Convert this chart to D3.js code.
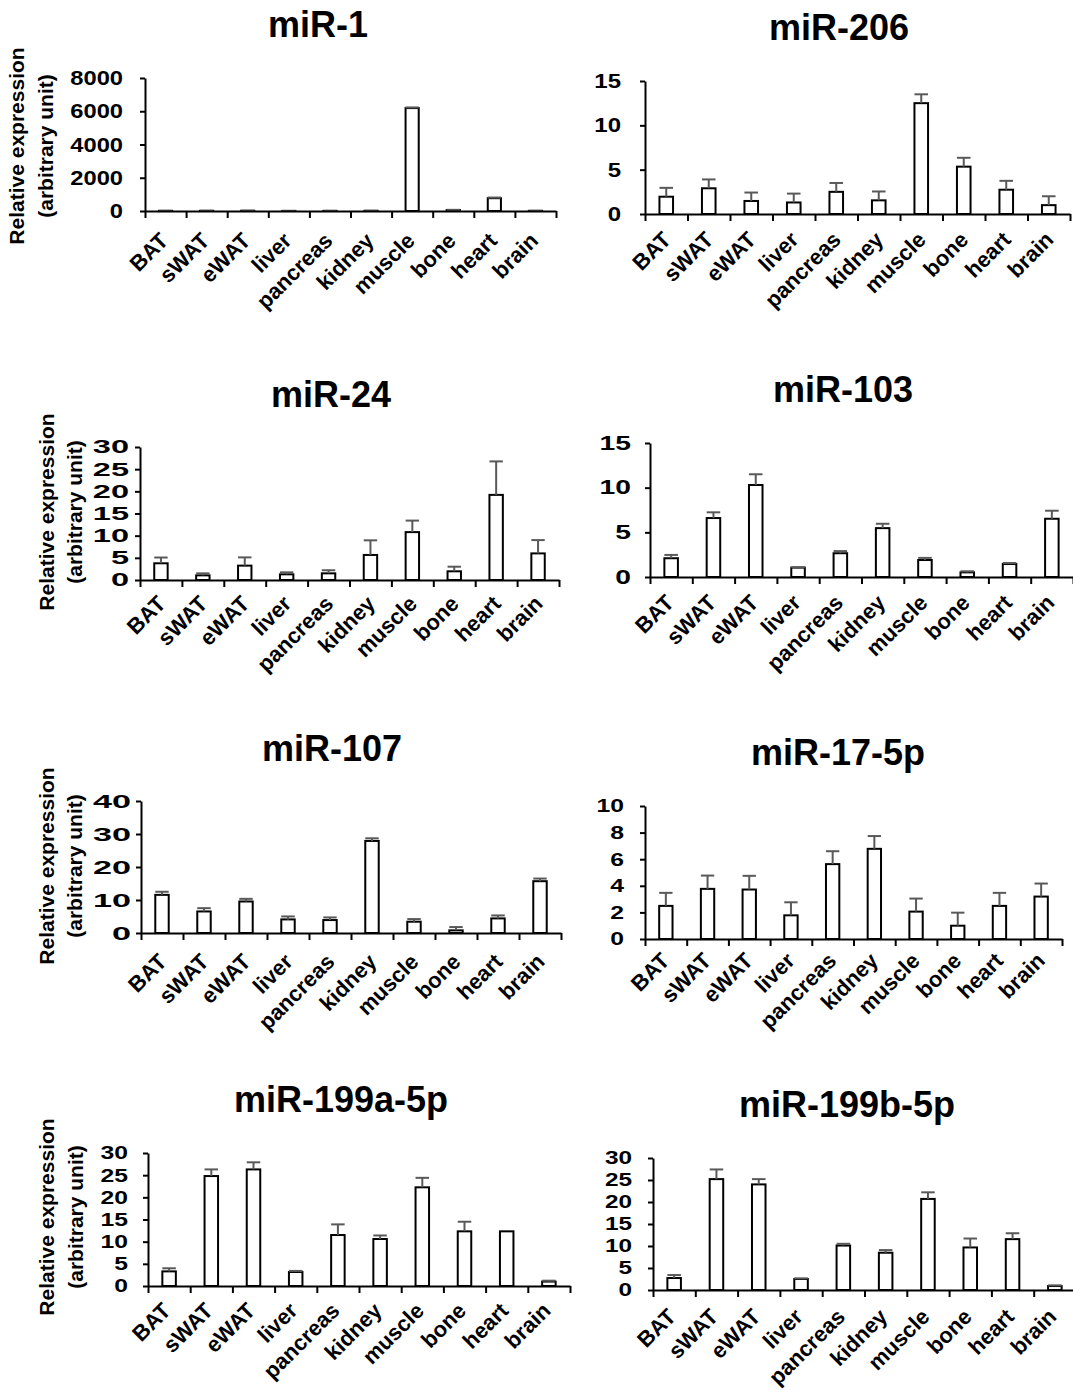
<!DOCTYPE html>
<html>
<head>
<meta charset="utf-8">
<script src="https://cdn.jsdelivr.net/npm/d3@7"></script>
<style>
body { margin: 0; background: #fff; }
svg text { font-family: "Liberation Sans", Arial, sans-serif; font-weight: bold; fill: #000; }
</style>
</head>
<body>
<svg id="chart" width="1073" height="1395"></svg>
<script>
// Tissues on the x axis (same for every panel)
const tissues = ['BAT', 'sWAT', 'eWAT', 'liver', 'pancreas', 'kidney', 'muscle', 'bone', 'heart', 'brain'];

// Mean relative expression and error (upper bar) per miRNA
const mir1 = [10, 12, 15, 5, 8, 12, 6190, 60, 770, 10];
const mir1Err = [3, 3, 3, 2, 2, 3, 40, 10, 40, 3];
const mir206 = [1.95, 2.9, 1.47, 1.3, 2.5, 1.54, 12.5, 5.34, 2.74, 1.0];
const mir206Err = [1.0, 1.0, 0.95, 1.0, 1.0, 1.0, 1.0, 1.0, 1.0, 1.0];
const mir24 = [3.77, 1.05, 3.24, 1.28, 1.5, 5.65, 10.8, 1.96, 19.2, 6.0];
const mir24Err = [1.3, 0.45, 1.86, 0.45, 0.7, 3.3, 2.6, 1.04, 7.55, 3.0];
const mir103 = [2.1, 6.6, 10.3, 1.05, 2.66, 5.47, 1.9, 0.52, 1.46, 6.52];
const mir103Err = [0.37, 0.64, 1.2, 0.05, 0.24, 0.49, 0.24, 0.12, 0.11, 0.9];
const mir107 = [11.56, 6.53, 9.55, 4.12, 3.92, 27.9, 3.42, 0.8, 4.42, 15.7];
const mir107Err = [0.94, 1.0, 0.8, 0.9, 0.8, 0.8, 0.8, 1.0, 0.9, 0.8];
const mir17 = [2.49, 3.77, 3.72, 1.78, 5.63, 6.78, 2.06, 1.0, 2.49, 3.19];
const mir17Err = [0.98, 1.0, 1.03, 0.98, 0.97, 0.96, 0.98, 0.98, 0.98, 0.98];
const mir199a = [3.3, 24.8, 26.3, 3.16, 11.5, 10.6, 22.26, 12.33, 12.33, 1.0];
const mir199aErr = [0.7, 1.5, 1.6, 0.24, 2.4, 0.8, 2.14, 2.17, 0, 0.2];
const mir199b = [2.72, 25.2, 24.0, 2.5, 10.1, 8.47, 20.7, 9.67, 11.56, 0.9];
const mir199bErr = [0.68, 2.2, 1.2, 0.15, 0.4, 0.6, 1.5, 2.03, 1.34, 0.16];

// Panel titles and y axis ranges
const titles = ['miR-1', 'miR-206', 'miR-24', 'miR-103', 'miR-107', 'miR-17-5p', 'miR-199a-5p', 'miR-199b-5p'];
const yMaxes = [8000, 15, 30, 15, 40, 10, 30, 30];
const ySteps = [2000, 5, 5, 5, 10, 2, 5, 5];
const valueSets = [mir1, mir206, mir24, mir103, mir107, mir17, mir199a, mir199b];
const errorSets = [mir1Err, mir206Err, mir24Err, mir103Err, mir107Err, mir17Err, mir199aErr, mir199bErr];

// Where each panel sits on the page (plot box, title spot, y label spot,
// tick label size / horizontal stretch, category label offset)
const layout = [
    { x0: 145, x1: 556, yTop: 78, yBot: 211, tx: 318, ty: 37, gap: 22, lab: [16, 45, 146], fs: 21, sx: 1.13, cdx: 4, cdy: 31 },
    { x0: 645, x1: 1070, yTop: 81, yBot: 214, tx: 839, ty: 40, gap: 24, fs: 20, sx: 1.2, cdx: 6, cdy: 27 },
    { x0: 140, x1: 559, yTop: 447, yBot: 580, tx: 331, ty: 407, gap: 11, lab: [46, 74, 512], fs: 18.6, sx: 1.75, cdx: 6, cdy: 25 },
    { x0: 650, x1: 1073, yTop: 443, yBot: 577, tx: 843, ty: 402, gap: 19, fs: 19.5, sx: 1.45, cdx: 4, cdy: 27 },
    { x0: 141, x1: 561, yTop: 801, yBot: 933, tx: 332, ty: 761, gap: 10, lab: [46, 74, 866], fs: 19, sx: 1.8, cdx: 6, cdy: 30 },
    { x0: 645, x1: 1062, yTop: 806, yBot: 939, tx: 838, ty: 765, gap: 21, fs: 18.6, sx: 1.33, cdx: 5, cdy: 23 },
    { x0: 148, x1: 570, yTop: 1153, yBot: 1286, tx: 341, ty: 1112, gap: 20, lab: [46, 75, 1217], fs: 18.6, sx: 1.33, cdx: 3, cdy: 26 },
    { x0: 653, x1: 1076, yTop: 1158, yBot: 1290, tx: 847, ty: 1117, gap: 21, fs: 18.6, sx: 1.31, cdx: 3, cdy: 28 }
];

const svg = d3.select('#chart');

titles.forEach(function (title, p) {
    const L = layout[p];
    const values = valueSets[p];
    const errors = errorSets[p];
    const g = svg.append('g');

    const x = d3.scaleBand().domain(tissues).range([L.x0, L.x1]).padding(0);
    const xEdge = d3.scaleLinear().domain([0, tissues.length]).range([L.x0, L.x1]);
    const y = d3.scaleLinear().domain([0, yMaxes[p]]).range([L.yBot, L.yTop]);
    const barW = x.bandwidth() * 0.32;

    // title
    g.append('text')
        .attr('x', L.tx).attr('y', L.ty)
        .attr('text-anchor', 'middle')
        .style('font-size', '36px')
        .text(title);

    // y axis label (left column only)
    if (L.lab) {
        const lines = ['Relative expression', '(arbitrary unit)'];
        lines.forEach(function (line, i) {
            g.append('text')
                .attr('transform', `translate(${L.lab[i]},${L.lab[2]}) rotate(-90)`)
                .attr('text-anchor', 'middle')
                .attr('dominant-baseline', 'central')
                .style('font-size', '21px')
                .text(line);
        });
    }

    // bars
    g.selectAll('rect.bar')
        .data(values)
        .enter()
        .append('rect')
        .attr('class', 'bar')
        .attr('x', (d, i) => x(tissues[i]) + (x.bandwidth() - barW) / 2)
        .attr('y', d => y(d))
        .attr('width', barW)
        .attr('height', d => y(0) - y(d))
        .attr('fill', '#fff')
        .attr('stroke', '#000')
        .attr('stroke-width', 2);

    // error bars (upper only)
    const err = g.append('g').attr('stroke', '#595959').attr('stroke-width', 2);
    values.forEach(function (v, i) {
        if (!errors[i]) return;
        const cx = x(tissues[i]) + x.bandwidth() / 2;
        err.append('line')
            .attr('x1', cx).attr('x2', cx)
            .attr('y1', y(v)).attr('y2', y(v + errors[i]));
        err.append('line')
            .attr('x1', cx - barW / 2).attr('x2', cx + barW / 2)
            .attr('y1', y(v + errors[i])).attr('y2', y(v + errors[i]));
    });

    // y axis
    const yAxis = g.append('g')
        .attr('transform', `translate(${L.x0},0)`)
        .call(d3.axisLeft(y)
            .tickValues(d3.range(0, yMaxes[p] + ySteps[p] / 2, ySteps[p]))
            .tickFormat(d3.format('d'))
            .tickSize(5)
            .tickSizeOuter(0)
            .tickPadding(L.gap - 5));
    // the figure's tick numbers are squat and wide
    yAxis.selectAll('.tick text')
        .style('font-size', L.fs + 'px')
        .attr('fill', '#000')
        .each(function () {
            const t = d3.select(this);
            t.attr('x', +t.attr('x') / L.sx).attr('transform', `scale(${L.sx},1)`);
        });

    // x axis: ticks at band edges, labels set separately
    const xAxis = g.append('g')
        .attr('transform', `translate(0,${L.yBot})`)
        .call(d3.axisBottom(xEdge)
            .tickValues(d3.range(0, tissues.length + 1))
            .tickSize(7)
            .tickSizeOuter(0)
            .tickFormat(''));

    [yAxis, xAxis].forEach(function (a) {
        a.select('.domain').attr('stroke', '#000').attr('stroke-width', 2);
        a.selectAll('.tick line').attr('stroke', '#000').attr('stroke-width', 2);
    });

    g.selectAll('text.cat')
        .data(tissues)
        .enter()
        .append('text')
        .attr('class', 'cat')
        .attr('text-anchor', 'end')
        .attr('transform', d => `translate(${x(d) + x.bandwidth() / 2 + L.cdx},${L.yBot + L.cdy}) rotate(-45)`)
        .style('font-size', '22px')
        .text(d => d);
});
</script>
</body>
</html>
